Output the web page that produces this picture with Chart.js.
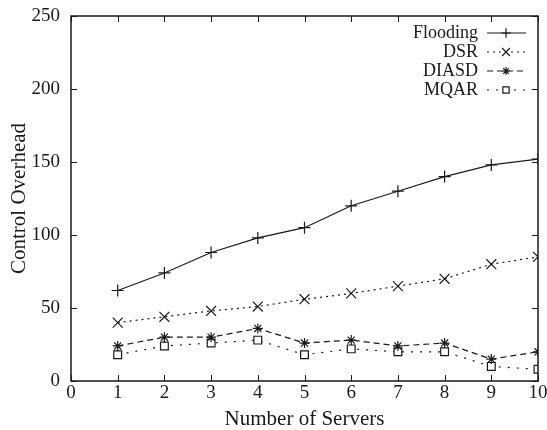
<!DOCTYPE html>
<html>
<head>
<meta charset="utf-8">
<script src="https://cdn.jsdelivr.net/npm/chart.js@4"></script>
<style>
  html, body { margin: 0; padding: 0; background: #fff; }
  #wrap { width: 547px; height: 430px; }
</style>
</head>
<body>
<div id="wrap"><canvas id="chart" width="547" height="430"></canvas></div>
<script>
// Data
const servers = [1, 2, 3, 4, 5, 6, 7, 8, 9, 10];
const flooding = [62, 74, 88, 98, 105, 120, 130, 140, 148, 152];
const dsr = [40, 44, 48, 51, 56, 60, 65, 70, 80, 85];
const diasd = [24, 30, 30, 36, 26, 28, 24, 26, 15, 20];
const mqar = [18, 24, 26, 28, 18, 22, 20, 20, 10, 8];
const xTicks = [0, 1, 2, 3, 4, 5, 6, 7, 8, 9, 10];
const yTicks = [0, 50, 100, 150, 200, 250];

const ink = '#1a1a1a';
const serif = '"Liberation Serif", "DejaVu Serif", serif';

function pts(vals) {
    return servers.map((s, i) => ({ x: s, y: vals[i] }));
}

function series(label, vals, style, dash, radius) {
    return {
        label: label,
        data: pts(vals),
        borderColor: ink,
        backgroundColor: '#fff',
        borderWidth: 1.2,
        borderDash: dash,
        pointStyle: style,
        pointRadius: radius,
        pointBorderColor: ink,
        pointBackgroundColor: '#fff',
        pointBorderWidth: 1.2,
        tension: 0
    };
}

// Gnuplot-style frame, inward ticks and right-aligned key
const framePlugin = {
    id: 'frame',
    afterDraw(chart) {
        const ctx = chart.ctx;
        const a = chart.chartArea;
        const xs = chart.scales.x, ys = chart.scales.y;
        ctx.save();
        ctx.strokeStyle = ink;
        ctx.lineWidth = 1.5;
        ctx.setLineDash([]);
        ctx.strokeRect(a.left, a.top, a.right - a.left, a.bottom - a.top);
        ctx.lineWidth = 1;
        const t = 6;
        ctx.beginPath();
        xTicks.forEach(v => {
            const px = Math.round(xs.getPixelForValue(v)) + 0.5;
            ctx.moveTo(px, a.bottom); ctx.lineTo(px, a.bottom - t);
            ctx.moveTo(px, a.top); ctx.lineTo(px, a.top + t);
        });
        yTicks.forEach(v => {
            const py = Math.round(ys.getPixelForValue(v)) + 0.5;
            ctx.moveTo(a.left, py); ctx.lineTo(a.left + t, py);
            ctx.moveTo(a.right, py); ctx.lineTo(a.right - t, py);
        });
        ctx.stroke();

        // key
        ctx.font = '18px ' + serif;
        ctx.textAlign = 'right';
        ctx.textBaseline = 'middle';
        chart.data.datasets.forEach((ds, i) => {
            const y = 33 + i * 19;
            ctx.fillStyle = ink;
            ctx.fillText(ds.label, 478, y);
            ctx.strokeStyle = ink;
            ctx.lineWidth = 1.2;
            ctx.setLineDash(ds.borderDash || []);
            ctx.beginPath();
            ctx.moveTo(487, y); ctx.lineTo(526, y);
            ctx.stroke();
            ctx.setLineDash([]);
            ctx.fillStyle = '#fff';
            Chart.helpers.drawPoint(ctx, {
                pointStyle: ds.pointStyle, radius: ds.pointRadius * 0.8,
                rotation: 0, borderWidth: 1.2
            }, 506, y);
        });
        ctx.restore();
    }
};

new Chart(document.getElementById('chart'), {
    type: 'line',
    data: {
        datasets: [
            series('Flooding', flooding, 'cross', [], 6),
            series('DSR', dsr, 'crossRot', [2, 4], 7),
            series('DIASD', diasd, 'star', [6, 4], 5),
            series('MQAR', mqar, 'rect', [2, 7], 5.5)
        ]
    },
    options: {
        responsive: false,
        animation: false,
        layout: { padding: { top: 16, right: 9, left: 0, bottom: 0 } },
        plugins: {
            legend: { display: false },
            tooltip: { enabled: false }
        },
        scales: {
            x: {
                type: 'linear',
                min: 0, max: 10,
                grid: { display: false },
                border: { display: false },
                afterFit: s => { s.height = 49; },
                afterBuildTicks: s => { s.ticks = xTicks.map(v => ({ value: v })); },
                ticks: { color: ink, padding: -5, font: { family: serif, size: 19, lineHeight: 1 } },
                title: {
                    display: true, text: 'Number of Servers', color: ink,
                    font: { family: serif, size: 21, lineHeight: 1 }, padding: { top: 0, bottom: 0 }
                }
            },
            y: {
                min: 0, max: 250,
                grid: { display: false },
                border: { display: false },
                afterFit: s => { s.width = 71; },
                afterBuildTicks: s => { s.ticks = yTicks.map(v => ({ value: v })); },
                ticks: { color: ink, padding: 3, font: { family: serif, size: 19 } },
                title: {
                    display: true, text: 'Control Overhead', color: ink,
                    font: { family: serif, size: 21 }, padding: { top: 7, bottom: 0 }
                }
            }
        }
    },
    plugins: [framePlugin]
});
</script>
</body>
</html>
